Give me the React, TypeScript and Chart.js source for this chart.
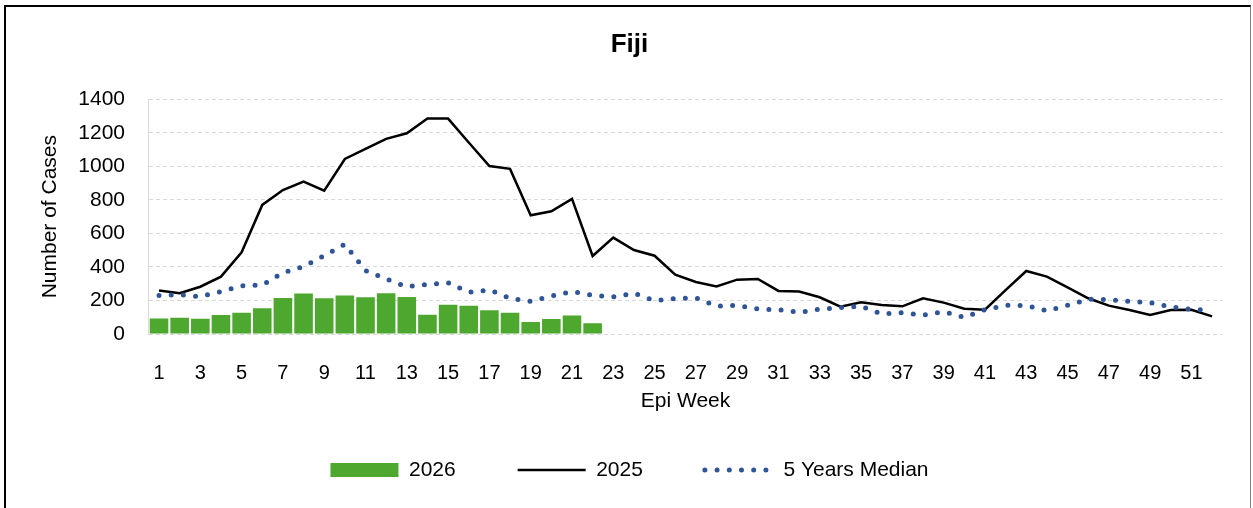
import React, { useEffect, useRef } from "react";
import { Chart, registerables } from "chart.js";

Chart.register(...registerables);

const weeks = [
  "1", "2", "3", "4", "5", "6", "7", "8", "9", "10",
  "11", "12", "13", "14", "15", "16", "17", "18", "19", "20",
  "21", "22", "23", "24", "25", "26", "27", "28", "29", "30",
  "31", "32", "33", "34", "35", "36", "37", "38", "39", "40",
  "41", "42", "43", "44", "45", "46", "47", "48", "49", "50",
  "51", "52",
];

const cases2026 = [
  92, 97, 91, 113, 127, 153, 215, 241, 213, 229,
  219, 243, 221, 115, 175, 169, 141, 127, 72, 90,
  111, 64,
];

const cases2025 = [
  259, 243, 282, 342, 487, 770, 859, 909, 855, 1044,
  1104, 1164, 1197, 1285, 1285, 1142, 1002, 985, 708, 732,
  806, 465, 575, 501, 467, 354, 310, 284, 324, 328,
  257, 253, 219, 163, 189, 173, 165, 213, 187, 151,
  145, 262, 376, 342, 278, 213, 169, 143, 113, 143,
  145, 105,
];

const median5y = [
  229, 235, 223, 253, 288, 292, 366, 402, 467, 535,
  378, 328, 282, 296, 306, 249, 263, 213, 195, 227,
  253, 231, 221, 243, 199, 211, 215, 167, 171, 149,
  145, 129, 149, 157, 165, 119, 127, 113, 133, 99,
  145, 171, 169, 139, 171, 207, 205, 195, 187, 161,
  147, 141,
];

const seriesLabels = ["2026", "2025", "5 Years Median"];

const GREEN = "#4ea72e";
const BLUE = "#2f5597";
const FONT = "'Liberation Sans', Arial, sans-serif";

export default function App() {
  const ref = useRef<HTMLCanvasElement>(null);

  useEffect(() => {
    document.body.style.margin = "0";
    const canvas = ref.current;
    if (!canvas) return;
    const chart = new Chart(canvas, {
      type: "bar",
      data: {
        labels: weeks,
        datasets: [
          {
            type: "bar",
            label: seriesLabels[0],
            data: cases2026,
            backgroundColor: GREEN,
            borderWidth: 0,
            barPercentage: 0.9,
            categoryPercentage: 1,
            order: 3,
          },
          {
            type: "line",
            label: seriesLabels[1],
            data: cases2025,
            borderColor: "#000000",
            borderWidth: 2.5,
            pointRadius: 0,
            tension: 0,
            fill: false,
            order: 2,
          },
          {
            type: "line",
            label: seriesLabels[2],
            data: median5y,
            borderColor: BLUE,
            borderWidth: 5,
            borderDash: [0, 12.2],
            borderCapStyle: "round",
            pointRadius: 0,
            tension: 0,
            fill: false,
            order: 1,
          },
        ] as any,
      },
      options: {
        animation: false,
        responsive: false,
        maintainAspectRatio: false,
        layout: { padding: { left: 36.6, right: 30.6, top: 0, bottom: 17.5 } },
        plugins: {
          title: {
            display: true,
            text: "Fiji",
            color: "#000",
            font: { family: FONT, size: 26, weight: "bold" },
            padding: { top: 29.4, bottom: 38.7 },
          },
          tooltip: { enabled: false },
          legend: {
            position: "bottom",
            labels: {
              usePointStyle: true,
              pointStyleWidth: 68,
              boxHeight: 14,
              padding: 62,
              color: "#000",
              font: { family: FONT, size: 21 },
              generateLabels: (c: any) =>
                c.data.datasets.map((ds: any, i: number) => ({
                  text: ds.label,
                  datasetIndex: i,
                  hidden: false,
                  pointStyle: i === 0 ? "rect" : "line",
                  fillStyle: i === 0 ? GREEN : "rgba(0,0,0,0)",
                  strokeStyle: i === 0 ? GREEN : ds.borderColor,
                  lineWidth: i === 0 ? 0 : ds.borderWidth,
                  lineDash: ds.borderDash || [],
                  lineCap: i === 2 ? "round" : "butt",
                  fontColor: "#000",
                })),
            },
          },
        },
        scales: {
          x: {
            grid: { display: false },
            border: { display: false },
            ticks: {
              autoSkip: false,
              maxRotation: 0,
              minRotation: 0,
              padding: 19,
              color: "#000",
              font: { family: FONT, size: 20 },
              callback: (_v: any, i: number) => (i % 2 === 0 ? weeks[i] : ""),
            },
            title: {
              display: true,
              text: "Epi Week",
              color: "#000",
              font: { family: FONT, size: 21 },
              padding: { top: 0, bottom: -16.3 },
            },
            afterFit: (s: any) => {
              s.height = 63.5;
            },
          },
          y: {
            min: 0,
            max: 1400,
            ticks: {
              stepSize: 200,
              padding: 23.7,
              color: "#000",
              font: { family: FONT, size: 21 },
              callback: (v: any) => String(v),
            },
            grid: { color: "#d9d9d9", lineWidth: 1, drawTicks: false },
            border: { display: true, color: "#d9d9d9", width: 1, dash: [4, 3] },
            title: {
              display: true,
              text: "Number of Cases",
              color: "#000",
              font: { family: FONT, size: 21 },
              padding: { top: 0.8, bottom: 0 },
            },
            afterFit: (s: any) => {
              s.width = 112.1;
            },
          },
        },
      } as any,
    });
    return () => chart.destroy();
  }, []);

  return (
    <div style={{ position: "relative", width: 1253, height: 508, overflow: "hidden", background: "#fff" }}>
      <canvas ref={ref} width={1253} height={508} style={{ display: "block" }} />
      <div
        style={{
          position: "absolute",
          left: 4,
          top: 5,
          width: 1244,
          height: 600,
          borderLeft: "2px solid #000",
          borderTop: "2px solid #000",
          borderRight: "1px solid #7f7f7f",
          pointerEvents: "none",
        }}
      />
    </div>
  );
}
